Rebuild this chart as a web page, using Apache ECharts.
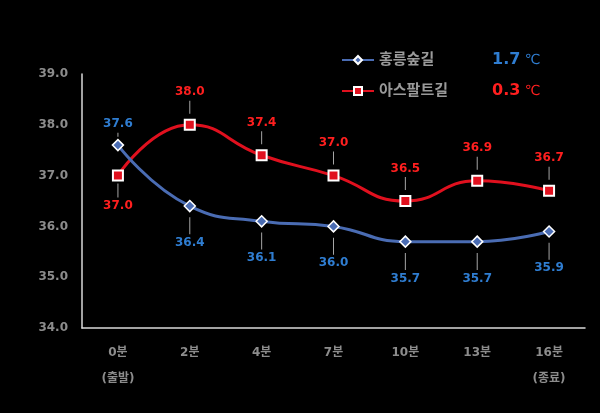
<!DOCTYPE html>
<html>
<head>
<meta charset="utf-8">
<script src="https://cdn.jsdelivr.net/npm/echarts@6/dist/echarts.min.js"></script>
<style>
  html, body { margin: 0; padding: 0; background: #000; }
  #chart { width: 600px; height: 413px; }
</style>
</head>
<body>
<div id="chart"></div>
<script>
  var categories = ["0분\n(출발)", "2분", "4분", "7분", "10분", "13분", "16분\n(종료)"];
  var forestValues = [37.6, 36.4, 36.1, 36.0, 35.7, 35.7, 35.9];
  var asphaltValues = [37.0, 38.0, 37.4, 37.0, 36.5, 36.9, 36.7];
  var seriesNames = ["홍릉숲길", "아스팔트길"];
  var diffValues = ["1.7", "0.3"];

  (function () {
    "use strict";
    var font = "'DejaVu Sans', 'Noto Sans CJK KR', sans-serif";
    var gray = "#8c8c8c";
    var blue = "#4a6cb3";
    var blueText = "#2f7dd1";
    var red = "#e0101e";
    var redText = "#ff1f1f";

    // label text plus a short grey leader stroke towards the marker
    function labelData(values, color, basePos, firstPos, lead, firstLead) {
      return values.map(function (v, i) {
        var pos = i === 0 ? firstPos : basePos;
        var len = i === 0 ? firstLead : lead;
        var txt = "{v|" + v.toFixed(1) + "}";
        var bar = "{l|}";
        return {
          value: v,
          label: {
            position: pos, distance: i === 0 ? 2 : 5,
            formatter: pos === "top" ? txt + "\n" + bar : bar + "\n" + txt,
            rich: {
              v: { color: color, fontWeight: "bold", fontSize: 12, lineHeight: 17, fontFamily: font },
              l: { width: 1, height: len, lineHeight: len, fontSize: 1, backgroundColor: "#a6a6a6" }
            }
          }
        };
      });
    }

    var chart = echarts.init(document.getElementById("chart"));
    chart.setOption({
      backgroundColor: "#000",
      textStyle: { fontFamily: font },
      grid: { left: 82, right: 15, top: 74, bottom: 85 },
      legend: {
        orient: "vertical", left: 336, top: 47, itemGap: 15,
        itemWidth: 32, itemHeight: 10,
        data: seriesNames,
        formatter: function (name) {
          var i = seriesNames.indexOf(name);
          return "{n|" + name + "}{v" + i + "|" + diffValues[i] + "}{u" + i + "| ℃}";
        },
        textStyle: {
          rich: {
            n: { width: 113, fontSize: 15, fontWeight: "bold", color: "#9a9a9a", fontFamily: font },
            v0: { fontSize: 16, fontWeight: "bold", color: blueText, fontFamily: font },
            u0: { fontSize: 14, color: blueText, fontFamily: font },
            v1: { fontSize: 16, fontWeight: "bold", color: redText, fontFamily: font },
            u1: { fontSize: 14, color: redText, fontFamily: font }
          }
        }
      },
      xAxis: {
        type: "category", data: categories, boundaryGap: true,
        axisLine: { lineStyle: { color: "#d9d9d9", width: 1.5 } },
        axisTick: { show: false },
        axisLabel: { color: gray, fontWeight: "bold", fontSize: 12, margin: 12, lineHeight: 26, fontFamily: font }
      },
      yAxis: {
        type: "value", min: 34, max: 39, interval: 1,
        axisLine: { show: true, lineStyle: { color: "#d9d9d9", width: 1.5 } },
        axisTick: { show: false },
        splitLine: { show: false },
        axisLabel: {
          color: gray, fontWeight: "bold", fontSize: 12, margin: 14, fontFamily: font,
          formatter: function (v) { return v.toFixed(1); }
        }
      },
      series: [
        {
          name: seriesNames[0], type: "line", smooth: true, z: 3,
          data: labelData(forestValues, blueText, "bottom", "top", 17, 4),
          symbol: "diamond", symbolSize: 11,
          lineStyle: { color: blue, width: 3 },
          itemStyle: { color: blue, borderColor: "#fff", borderWidth: 1.5 },
          label: { show: true }
        },
        {
          name: seriesNames[1], type: "line", smooth: true, z: 2,
          data: labelData(asphaltValues, redText, "top", "bottom", 13, 14),
          symbol: "rect", symbolSize: 10,
          lineStyle: { color: red, width: 3 },
          itemStyle: { color: red, borderColor: "#fff", borderWidth: 2 },
          label: { show: true }
        }
      ]
    });
    window.addEventListener("resize", function () { chart.resize(); });
  })();
</script>
</body>
</html>
